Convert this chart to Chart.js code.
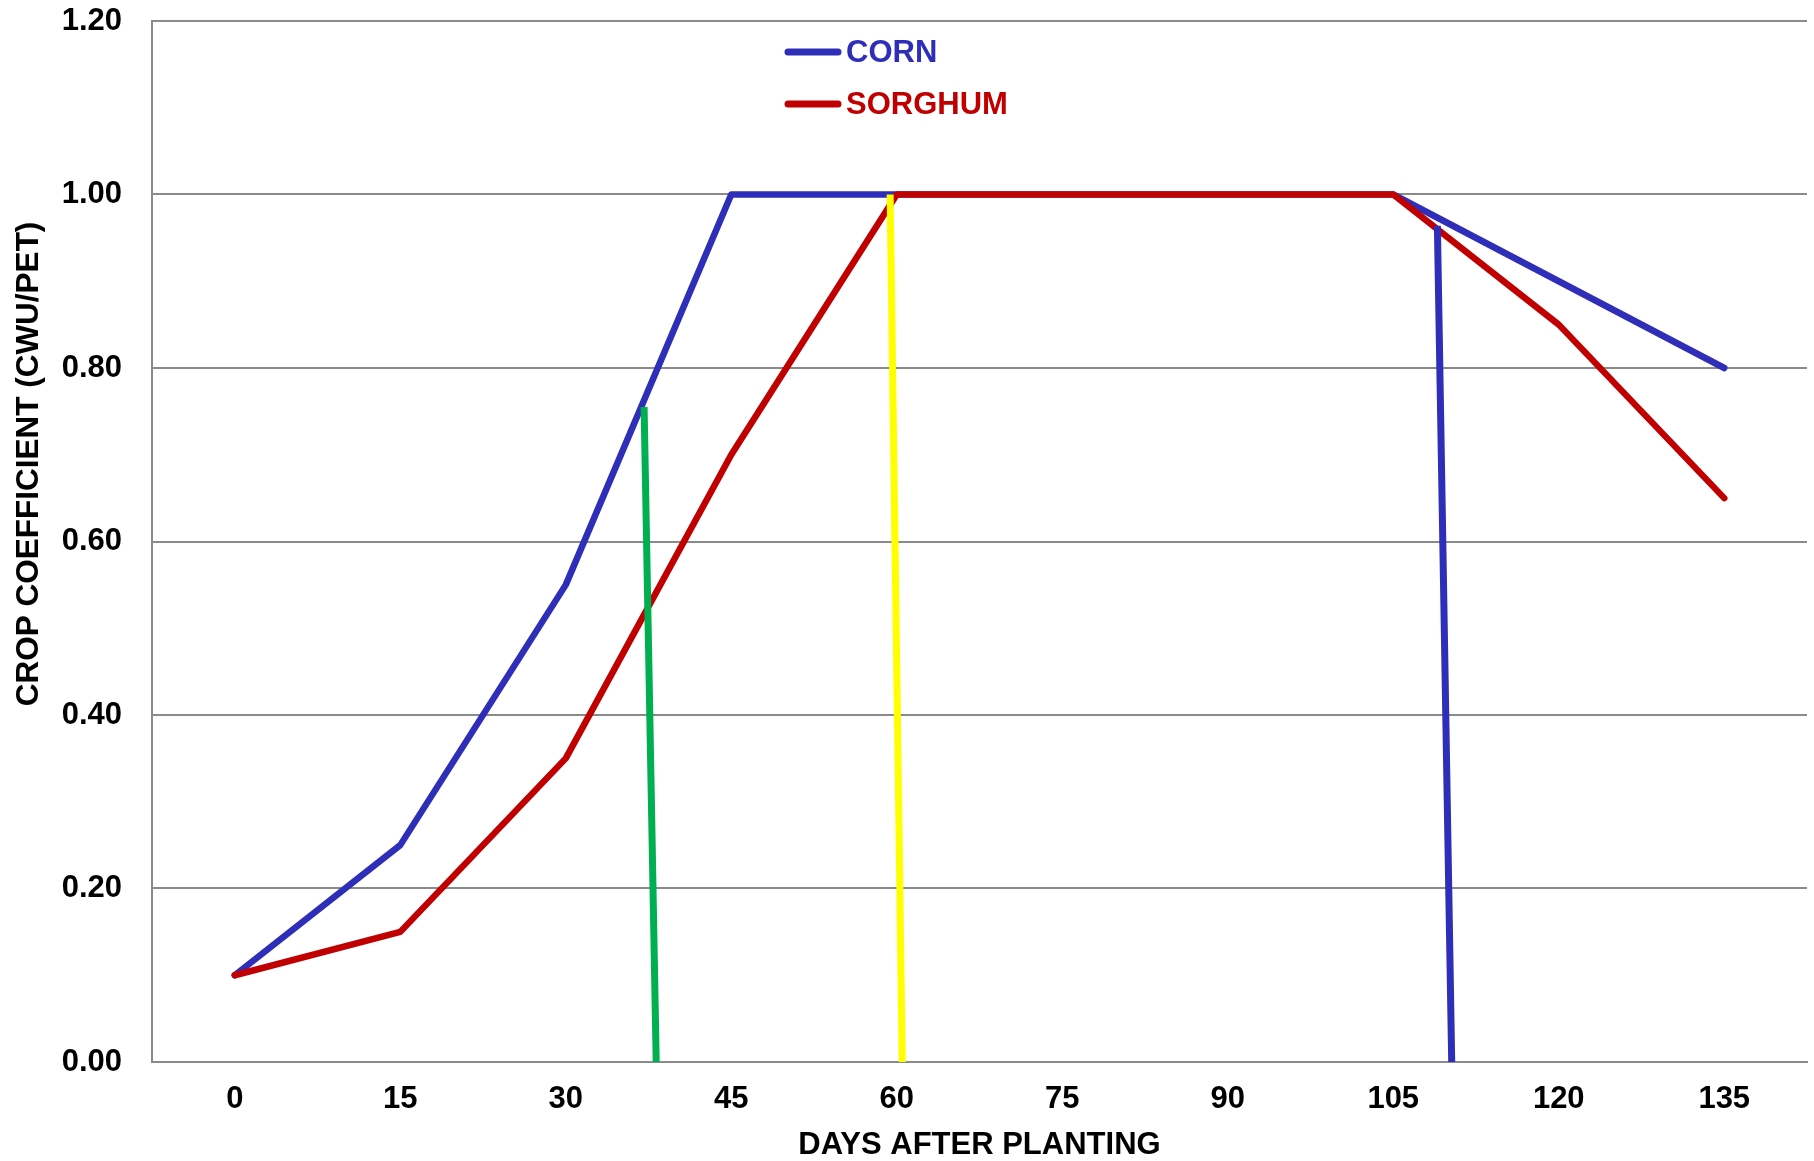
<!DOCTYPE html>
<html>
<head>
<meta charset="utf-8">
<script src="https://cdn.jsdelivr.net/npm/chart.js@4.4.1/dist/chart.umd.min.js"></script>
<style>
  html,body{margin:0;padding:0;background:#fff}
  #wrap{width:1814px;height:1161px;position:relative}
</style>
</head>
<body>
<div id="wrap"><canvas id="c"></canvas></div>
<script>
/* ═══ DATA ══════════════════════════════════════════════ */
const DAYS    = [0, 15, 30, 45, 60, 75, 90, 105, 120, 135];
const CORN    = [0.10, 0.25, 0.55, 1.00, 1.00, 1.00, 1.00, 1.00, 0.90, 0.80];
const SORGHUM = [0.10, 0.15, 0.35, 0.70, 1.00, 1.00, 1.00, 1.00, 0.85, 0.65];

// stage marker lines: [day, coefficient] top and bottom ends
const GREEN_MARK  = [[37.1, 0.755], [38.2, 0]];
const YELLOW_MARK = [[59.4, 1.00],  [60.5, 0]];
const BLUE_MARK   = [[109.0, 0.964], [110.3, 0]];

const Y_TICKS = [0, 0.2, 0.4, 0.6, 0.8, 1.0, 1.2];

/* ═══ STYLE ═════════════════════════════════════════════ */
const BLUE = '#2E2EB8', RED = '#C00000', GREEN = '#00B050', YELLOW = '#FFFF00';
const GRID = '#8a8a8a';
const FAM  = '"Liberation Sans", Arial, sans-serif';
const TICK_FONT = {family: FAM, size: 31, weight: 'bold'};

const pts = ys => DAYS.map((d, i) => ({x: d, y: ys[i]}));
const mark = m => m.map(([x, y]) => ({x, y}));

function markSet(m, color) {
  return {label: '', data: mark(m), borderColor: color, borderWidth: 7,
    borderCapStyle: 'butt', pointRadius: 0, order: 0, isMark: true};
}

// tick padding would otherwise push the plot area inwards
function noEdgePad(s) {
  s.paddingTop = 0; s.paddingBottom = 0; s.paddingLeft = 0; s.paddingRight = 0;
}

/* ═══ OVERLAY: in-plot legend + offset y title ══════════ */
const overlay = {
  id: 'overlay',
  afterDatasetsDraw(chart) {
    const ctx = chart.ctx;
    ctx.save();
    ctx.font = 'bold 31px ' + FAM;
    ctx.textBaseline = 'middle';
    ctx.textAlign = 'left';
    const rows = chart.data.datasets.filter(d => !d.isMark);
    rows.forEach((d, i) => {
      const y = 52 + i * 52;
      ctx.strokeStyle = d.borderColor; ctx.lineWidth = 7; ctx.lineCap = 'round';
      ctx.beginPath(); ctx.moveTo(788, y); ctx.lineTo(838, y); ctx.stroke();
      ctx.fillStyle = d.borderColor;
      ctx.fillText(d.label, 846, y + 1);
    });
    // y axis title (sits above centre in the original)
    ctx.translate(29, 464);
    ctx.rotate(-Math.PI / 2);
    ctx.textAlign = 'center';
    ctx.fillStyle = '#000';
    ctx.font = 'bold 31.5px ' + FAM;
    ctx.fillText('CROP COEFFICIENT (CWU/PET)', 0, 0);
    ctx.restore();
  }
};

/* ═══ CHART ═════════════════════════════════════════════ */
new Chart(document.getElementById('c'), {
  type: 'line',
  data: {datasets: [
    markSet(GREEN_MARK, GREEN),
    markSet(YELLOW_MARK, YELLOW),
    markSet(BLUE_MARK, BLUE),
    {label: 'CORN', data: pts(CORN), borderColor: BLUE, borderWidth: 6.5,
      borderCapStyle: 'round', borderJoinStyle: 'round', pointRadius: 0, order: 2},
    {label: 'SORGHUM', data: pts(SORGHUM), borderColor: RED, borderWidth: 6.5,
      borderCapStyle: 'round', borderJoinStyle: 'round', pointRadius: 0, order: 1}
  ]},
  options: {
    responsive: true, maintainAspectRatio: false, animation: false,
    devicePixelRatio: 1,
    layout: {padding: {top: 21, right: 7, left: 0, bottom: 0}},
    plugins: {legend: {display: false}, tooltip: {enabled: false}},
    scales: {
      x: {type: 'linear', min: -7.5, max: 142.5,
        afterBuildTicks: s => { s.ticks = DAYS.map(v => ({value: v})); },
        afterFit: s => { s.height = 99; noEdgePad(s); },
        ticks: {font: TICK_FONT, color: '#000', padding: 19, autoSkip: false, maxRotation: 0},
        grid: {display: false, drawTicks: false},
        border: {display: true, color: GRID, width: 2},
        title: {display: true, text: 'DAYS AFTER PLANTING', color: '#000',
          font: {family: FAM, size: 31, weight: 'bold', lineHeight: 1}, padding: 0}},
      y: {min: 0, max: 1.2,
        afterBuildTicks: s => { s.ticks = Y_TICKS.map(v => ({value: v})); },
        afterFit: s => { s.width = 152; noEdgePad(s); },
        ticks: {font: TICK_FONT, color: '#000', padding: 30, callback: v => v.toFixed(2)},
        grid: {color: GRID, lineWidth: 2, drawTicks: false},
        border: {display: true, color: GRID, width: 2}}
    }
  },
  plugins: [overlay]
});
</script>
</body>
</html>
